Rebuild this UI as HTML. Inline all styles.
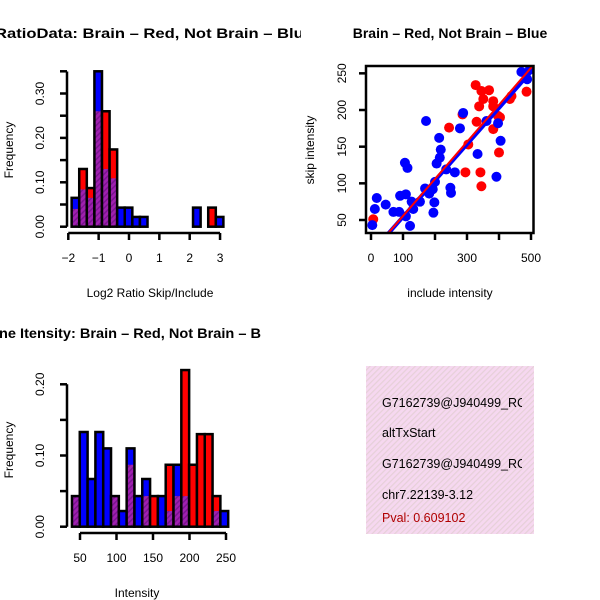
<!DOCTYPE html>
<html><head><meta charset="utf-8"><style>
html,body{margin:0;padding:0;background:#fff;}
svg{display:block;font-family:"Liberation Sans",Arial,sans-serif;}
</style></head><body>
<svg id="c" width="600" height="600" viewBox="0 0 600 600">
<defs>
<pattern id="hatch" width="4" height="4" patternUnits="userSpaceOnUse" patternTransform="rotate(45)">
<rect width="4" height="4" fill="#a020b0"/><rect width="1.5" height="4" fill="#7a1590"/></pattern>
<pattern id="pinkhatch" width="4" height="4" patternUnits="userSpaceOnUse" patternTransform="rotate(45)">
<rect width="4" height="4" fill="#f6d8f0"/><rect width="1.2" height="4" fill="#e6d0d8"/></pattern>
<clipPath id="scClip"><rect x="366" y="66" width="168" height="167"/></clipPath>
<clipPath id="boxClip"><rect x="366" y="366" width="156" height="168"/></clipPath>
<clipPath id="titleClip"><rect x="0" y="0" width="301" height="600"/></clipPath>
</defs>
<g id="g1"></g><g id="g2"></g><g id="g3"></g>
<g>
<rect x="366" y="366" width="168" height="168" fill="url(#pinkhatch)"/>
<g clip-path="url(#boxClip)" font-size="12.5">
<text x="382" y="407" fill="#000">G7162739@J940499_RC</text>
<text x="382" y="437" fill="#000">altTxStart</text>
<text x="382" y="468" fill="#000">G7162739@J940499_RC</text>
<text x="382" y="499" fill="#000">chr7.22139-3.12</text>
<text x="382" y="522" fill="#b00000">Pval: 0.609102</text>
</g></g>
</svg>
<script>
// ---- Histogram 1: log2 ratio ----
const h1Red  = [0.04,0.13,0.087,0.26,0.26,0.174,0,0,0,0,0,0,0,0,0,0,0,0,0.043,0];
const h1Blue = [0.065,0.084,0.065,0.35,0.13,0.109,0.043,0.043,0.022,0.022,0,0,0,0,0,0,0.043,0,0,0.022];
const h1XTicks = [-2,-1,0,1,2,3];
const h1YTicks = ["0.00","0.10","0.20","0.30"];
// ---- Histogram 2: intensity ----
const h2Red  = [0.043,0,0,0,0,0.043,0,0.087,0,0.043,0.043,0,0.087,0.043,0.22,0.087,0.13,0.13,0.043,0];
const h2Blue = [0.043,0.133,0.067,0.133,0.11,0.043,0.022,0.11,0.043,0.067,0,0.043,0.022,0.087,0.043,0,0,0,0.022,0.022];
const h2XTicks = [50,100,150,200,250];
const h2YTicks = ["0.00","0.10","0.20"];
// ---- Scatter ----
const redX = [7,327,345,369,351,338,382,382,286,330,397,403,382,244,304,400,295,342,345,486,439,434];
const redY = [51,234,226,227,215,205,212,205,194,184,192,190,174,176,153,142,115,115,96,225,219,215];
const blueX = [4,12,18,46,70,88,91,109,106,114,122,127,132,109,153,169,172,182,195,198,193,200,205,215,218,213,235,248,250,262,278,288,333,361,392,397,405,470,488,496];
const blueY = [43,65,80,71,61,61,83,85,128,121,42,75,65,55,75,93,185,86,60,74,92,102,127,135,146,162,119,94,87,115,175,196,140,185,109,182,158,252,242,255];
const redFit = [5,0.505];   // intercept, slope
const blueFit = [4.8,0.495];
const scXTicks = [0,100,200,300,400,500];
const scXLabels = ["0","100","","300","","500"];
const scYTicks = [50,100,150,200,250];

const NS="http://www.w3.org/2000/svg";
function mk(parent,tag,attrs){const e=document.createElementNS(NS,tag);for(const k in attrs)e.setAttribute(k,attrs[k]);parent.appendChild(e);return e;}

function hist(g,red,blue,x0,bw,xs,ys,prefix){
  for(let i=0;i<red.length;i++){
    const r=red[i],b=blue[i],mx=Math.max(r,b),mn=Math.min(r,b);
    if(mx<=0)continue;
    const xl=xs(x0+i*bw),xr=xs(x0+(i+1)*bw);
    const top=mk(g,'rect',{x:xl,y:ys(mx),width:xr-xl,height:ys(0)-ys(mx),fill:r>=b?'#ff0000':'#0000ff'});
    
    
    if(mn>0){const p=mk(g,'rect',{x:xl,y:ys(mn),width:xr-xl,height:ys(0)-ys(mn),fill:'url(#hatch)'});
      
      }
    mk(g,'rect',{x:xl,y:ys(mx),width:xr-xl,height:ys(0)-ys(mx),fill:'none',stroke:'#000','stroke-width':2.5});
  }
}
function label(g,x,y,txt,rot,name,opts){const t=mk(g,'text',Object.assign({x:x,y:y,'font-size':12,'text-anchor':'middle'},opts||{}));
  if(rot)t.setAttribute('transform',`rotate(-90 ${x} ${y})`);t.textContent=txt;
  
  return t;}

// Panel 1
{const g=document.getElementById('g1');
 const xs=v=>68.3+(v+2)*30.35, ys=v=>226.7-v*444;
 hist(g,h1Red,h1Blue,-1.89,0.25,xs,ys,'ratio');
 mk(g,'line',{x1:67,x2:67,y1:226.7,y2:71.5,stroke:'#000','stroke-width':2.5});
 for(let v=0;v<=0.351;v+=0.05)mk(g,'line',{x1:60,x2:67,y1:ys(v),y2:ys(v),stroke:'#000','stroke-width':2.5});
 h1YTicks.forEach(t=>{label(g,44,ys(parseFloat(t)),t,true,'ratio-y-tick-label');});
 mk(g,'line',{x1:xs(-2),x2:xs(3),y1:233,y2:233,stroke:'#000','stroke-width':2.5});
 h1XTicks.forEach(t=>{mk(g,'line',{x1:xs(t),x2:xs(t),y1:233,y2:240,stroke:'#000','stroke-width':2.5});
   label(g,xs(t),262,t<0?'\u2212'+(-t):String(t),false,'ratio-x-tick-label');});
 label(g,150,297,'Log2 Ratio Skip/Include',false,'ratio-x-axis-title');
 label(g,13,150,'Frequency',true,'ratio-y-axis-title');
 const tg=mk(g,'g',{'clip-path':'url(#titleClip)'});
 label(tg,-5,38,'RatioData: Brain \u2013 Red, Not Brain \u2013 Blue',false,'ratio-title',{'text-anchor':'start','font-weight':'bold','font-size':14,textLength:318,lengthAdjust:'spacingAndGlyphs'});
}
// Panel 2
{const g=document.getElementById('g2');
 const xs=v=>80+(v-50)*0.73, ys=v=>526.7-v*712;
 hist(g,h2Red,h2Blue,39,10.7,xs,ys,'intensity');
 mk(g,'line',{x1:67,x2:67,y1:526.7,y2:384.3,stroke:'#000','stroke-width':2.5});
 for(let v=0;v<=0.201;v+=0.05)mk(g,'line',{x1:60,x2:67,y1:ys(v),y2:ys(v),stroke:'#000','stroke-width':2.5});
 h2YTicks.forEach(t=>label(g,44,ys(parseFloat(t)),t,true,'intensity-y-tick-label'));
 mk(g,'line',{x1:xs(50),x2:xs(250),y1:533,y2:533,stroke:'#000','stroke-width':2.5});
 h2XTicks.forEach(t=>{mk(g,'line',{x1:xs(t),x2:xs(t),y1:533,y2:540,stroke:'#000','stroke-width':2.5});
   label(g,xs(t),562,String(t),false,'intensity-x-tick-label');});
 label(g,137,597,'Intensity',false,'intensity-x-axis-title');
 label(g,13,450,'Frequency',true,'intensity-y-axis-title');
 label(g,-1,338,'ne Itensity: Brain \u2013 Red, Not Brain \u2013 B',false,'intensity-title',{'text-anchor':'start','font-weight':'bold','font-size':14,textLength:262,lengthAdjust:'spacingAndGlyphs'});
}
// Panel 3 scatter
{const g=document.getElementById('g3');
 const xs=v=>371+v*0.32, ys=v=>220-(v-50)*0.7333;
 const pts=mk(g,'g',{'clip-path':'url(#scClip)'});
 redX.forEach((x,i)=>{const c=mk(pts,'circle',{cx:xs(x),cy:ys(redY[i]),r:5,fill:'#ff0000'});
   
   });
 blueX.forEach((x,i)=>{const c=mk(pts,'circle',{cx:xs(x),cy:ys(blueY[i]),r:5,fill:'#0000ff'});
   
   });
 const bl=mk(pts,'line',{x1:xs(-20),y1:ys(blueFit[0]+blueFit[1]*-20),x2:xs(560),y2:ys(blueFit[0]+blueFit[1]*560),stroke:'#0000ff','stroke-width':4});
 
 
 const rl=mk(pts,'line',{x1:xs(-20),y1:ys(redFit[0]+redFit[1]*-20),x2:xs(560),y2:ys(redFit[0]+redFit[1]*560),stroke:'#ff0000','stroke-width':2});
 
 
 const box=mk(g,'rect',{x:366,y:66,width:167.5,height:167,fill:'none',stroke:'#000','stroke-width':2.5});
 
 
 scXTicks.forEach((t,i)=>{mk(g,'line',{x1:xs(t),x2:xs(t),y1:233,y2:240,stroke:'#000','stroke-width':2.5});
   if(scXLabels[i])label(g,xs(t),262,scXLabels[i],false,'scatter-x-tick-label');});
 scYTicks.forEach(t=>{mk(g,'line',{x1:359,x2:366,y1:ys(t),y2:ys(t),stroke:'#000','stroke-width':2.5});
   label(g,346,ys(t),String(t),true,'scatter-y-tick-label');});
 label(g,450,297,'include intensity',false,'scatter-x-axis-title');
 label(g,314,150,'skip intensity',true,'scatter-y-axis-title');
 label(g,450,38,'Brain \u2013 Red, Not Brain \u2013 Blue',false,'scatter-title',{'font-weight':'bold','font-size':14});
}
</script>
</body></html>
